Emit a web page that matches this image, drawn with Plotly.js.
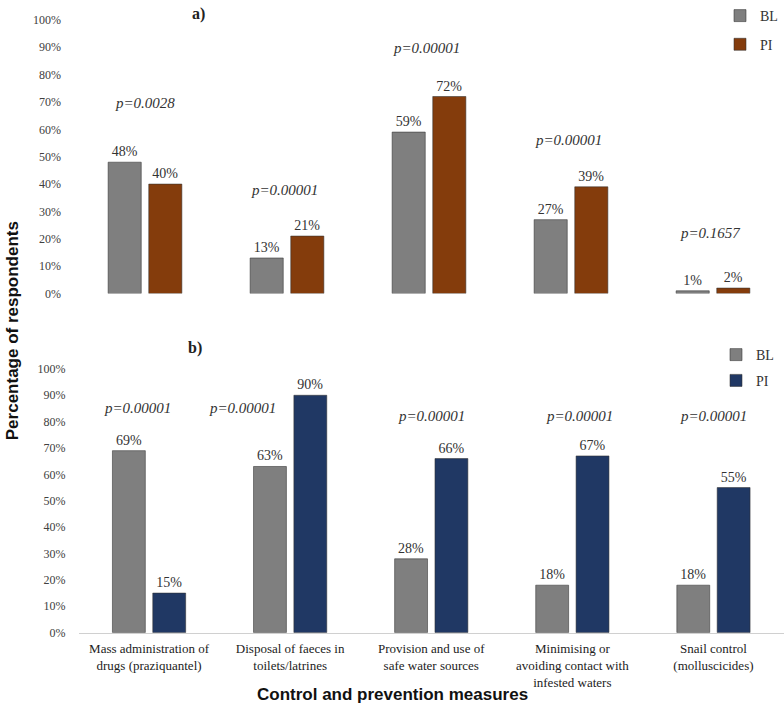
<!DOCTYPE html>
<html>
<head>
<meta charset="utf-8">
<script src="https://cdn.plot.ly/plotly-3.0.1.min.js"></script>
<style>html,body{margin:0;padding:0;background:#fff;}#chart{width:784px;height:709px;}</style>
</head>
<body>
<div id="chart"></div>
<script>
// ---- data ----
const categories = [
  'Mass administration of<br>drugs (praziquantel)',
  'Disposal of faeces in<br>toilets/latrines',
  'Provision and use of<br>safe water sources',
  'Minimising or<br>avoiding contact with<br>infested waters',
  'Snail control<br>(molluscicides)'
];
const seriesNames = ['BL', 'PI'];
const blA = [48, 13, 59, 27, 1];
const piA = [40, 21, 72, 39, 2];
const blB = [69, 63, 28, 18, 18];
const piB = [15, 90, 66, 67, 55];
const pA = ['p=0.0028', 'p=0.00001', 'p=0.00001', 'p=0.00001', 'p=0.1657'];
const pB = ['p=0.00001', 'p=0.00001', 'p=0.00001', 'p=0.00001', 'p=0.00001'];
const yTicks = [0, 10, 20, 30, 40, 50, 60, 70, 80, 90, 100];

// ---- annotation placement (not data) ----
const pAX = [0, -0.02, -0.02, -0.02, -0.02];
const pAY = [69.6, 37.7, 89.9, 56, 22];
const pBX = [-0.08, -0.34, 0, 0.05, 0];
const pBY = [85, 85, 82, 82, 82];

const GRAY = '#7f7f7f', BROWN = '#843c0c', NAVY = '#203864';
const SERIF = '"Liberation Serif", "Times New Roman", serif';
const SANS = '"Liberation Sans", Arial, sans-serif';
const txtFont = {family: SERIF, size: 14, color: '#333333'};

function barTrace(y, name, color, xa, ya, legend) {
  return {
    type: 'bar', x: categories, y: y, name: name,
    xaxis: xa, yaxis: ya, legend: legend,
    marker: {color: color, line: {color: 'rgba(50,50,50,0.55)', width: 1}},
    text: y.map(v => v + '%'), textposition: 'outside',
    textfont: txtFont, constraintext: 'none', cliponaxis: false,
    hoverinfo: 'x+y'
  };
}

const data = [
  barTrace(blA, seriesNames[0], GRAY, 'x', 'y', 'legend'),
  barTrace(piA, seriesNames[1], BROWN, 'x', 'y', 'legend2'),
  barTrace(blB, seriesNames[0], GRAY, 'x2', 'y2', 'legend3'),
  barTrace(piB, seriesNames[1], NAVY, 'x2', 'y2', 'legend4')
];

const annotations = [];
pA.forEach((t, i) => annotations.push({
  xref: 'x', yref: 'y', x: i + pAX[i], y: pAY[i], text: '<i>' + t + '</i>',
  showarrow: false, yanchor: 'middle', font: {family: SERIF, size: 15, color: '#333333'}
}));
pB.forEach((t, i) => annotations.push({
  xref: 'x2', yref: 'y2', x: i + pBX[i], y: pBY[i], text: '<i>' + t + '</i>',
  showarrow: false, yanchor: 'middle', font: {family: SERIF, size: 15, color: '#333333'}
}));
annotations.push({xref: 'paper', yref: 'paper', x: 190/784, y: (709-8)/709, yanchor: 'middle', text: '<b>a)</b>',
  showarrow: false, font: {family: SERIF, size: 16, color: '#222'}});
annotations.push({xref: 'paper', yref: 'paper', x: 186/784, y: (709-345)/709, yanchor: 'middle', text: '<b>b)</b>',
  showarrow: false, font: {family: SERIF, size: 16, color: '#222'}});
annotations.push({xref: 'paper', yref: 'paper', x: 12/784, y: (709-328)/709, xanchor: 'center', yanchor: 'middle',
  text: '<b>Percentage of respondents</b>',
  textangle: -90, showarrow: false, font: {family: SANS, size: 17, color: '#111'}});
annotations.push({xref: 'paper', yref: 'paper', x: 392/784, y: (709-694)/709, yanchor: 'middle',
  text: '<b>Control and prevention measures</b>',
  showarrow: false, font: {family: SANS, size: 17, color: '#111'}});

const yAxisBase = {
  range: [0, 100], tickvals: yTicks, ticktext: yTicks.map(v => v + '%'),
  showgrid: false, zeroline: false, showline: false, ticks: '',
  tickfont: {family: SERIF, size: 12, color: '#404040'}, ticklabelstandoff: 12, fixedrange: true
};
const legBase = {font: {family: SERIF, size: 14, color: '#333'}, bgcolor: 'rgba(0,0,0,0)',
  xanchor: 'left', yanchor: 'middle', borderwidth: 0};

const layout = {
  width: 784, height: 709,
  margin: {l: 0, r: 0, t: 0, b: 0},
  paper_bgcolor: '#fff', plot_bgcolor: '#fff',
  barmode: 'group', bargap: 0.428, bargroupgap: 0.185,
  showlegend: true,
  xaxis: {domain: [74/784, 1], anchor: 'y', showticklabels: false, showline: false, ticks: '', showgrid: false},
  yaxis: Object.assign({domain: [(709-290)/709, (709-14)/709], anchor: 'x'}, yAxisBase),
  xaxis2: {domain: [78.5/784, 1], anchor: 'y2', showline: true, linecolor: '#d0d0d0', linewidth: 1,
    ticks: '', showgrid: false, ticklabelstandoff: 4, tickfont: {family: SERIF, size: 13, color: '#222'}},
  yaxis2: Object.assign({domain: [(709-632)/709, (709-366)/709], anchor: 'x2'}, yAxisBase),
  legend: Object.assign({x: 720/784, y: (709-10)/709}, legBase),
  legend2: Object.assign({x: 720/784, y: (709-39)/709}, legBase),
  legend3: Object.assign({x: 716/784, y: (709-352)/709}, legBase),
  legend4: Object.assign({x: 716/784, y: (709-378)/709}, legBase),
  annotations: annotations
};

Plotly.newPlot('chart', data, layout, {displayModeBar: false, staticPlot: true});
</script>
</body>
</html>
